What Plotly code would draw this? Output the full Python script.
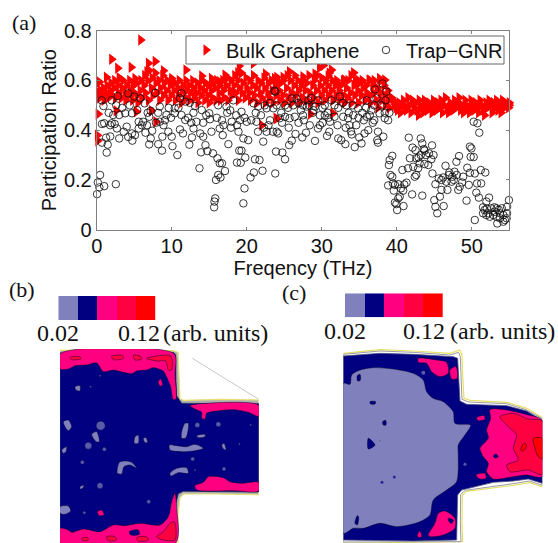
import plotly.graph_objects as go

W, H = 558, 543

# ---------- panel (a) data ----------
trap_points = [
(0.05,.143),(0.15,.19),(0.45,.22),(0.35,.17),(1.0,.175),(2.55,.183),(1.33,.31),(1.47,.342),(.7,.35),(1.25,.37),(1.8,.375),(3.0,.367),
(4.2,.373),(4.75,.358),(5.1,.38),(5.6,.407),(6.7,.42),(.67,.52),(.9,.497),(2,.52),(2.8,.537),(4.2,.548),(5,.535),(5.8,.528),(6.4,.508),
(7.8,.55),(8.4,.495),(7.2,.478),(3,.461),(2.2,.461),(3.8,.468),(4.7,.468),(5.4,.481),(2.4,.425),(1.8,.42),(.7,.425),(1,.428),(2,.428),
(2.7,.407),(3.6,.394),(4,.414),(4.7,.387),(5.6,.434),(6,.42),(6.2,.434),(7,.454),(7,.343),(7.2,.367),(7.4,.398),(8.2,.344),(8.7,.318),
(8.75,.374),(7.9,.43),(8.4,.434),(9.1,.44),(9.55,.394),(10,.374),(10.1,.336),(10.75,.3),(9.3,.461),(10.4,.468),(11.3,.461),(11.1,.403),
(11.5,.387),(11.8,.441),(12.35,.342),(12.7,.371),(12.9,.407),(13.3,.434),(13.8,.387),(14.2,.374),(13.7,.247),(13.9,.311),(14.5,.34),
(14.75,.316),(15.5,.307),(15,.468),(15.1,.444),(15.3,.394),(16.1,.287),(16.4,.267),(16.7,.267),(17.1,.236),(15.9,.2),(16.2,.22),(16.5,.21),
(15.8,.126),(15.7,.113),(15.65,.09),(16.4,.407),(16.8,.38),(17.55,.344),(18,.434),(18.7,.42),(18.9,.394),(18.7,.27),(19.2,.269),(19,.318),
(19.3,.318),(19.3,.474),(19.55,.367),(19.8,.29),(19.7,.166),(19.55,.106),(20.5,.21),(20.95,.23),(21.1,.283),(21.7,.28),(22.1,.237),(20.2,.36),
(20,.434),(21.3,.434),(21.5,.394),(22.2,.354),(22.65,.394),(23.1,.44),(23.9,.314),(23.8,.226),(24,.394),
(24.75,.31),(25.1,.283),(25.65,.34),(26,.358),(26.5,.385),(27.4,.371),(27.9,.39),(28.4,.42),(29.1,.357),(29.5,.407),(29.75,.42),(30.7,.377),
(31,.394),(31.1,.434),(32.2,.367),(32.6,.36),(33.15,.344),(33.7,.42),(34,.383),(34.4,.332),(35.3,.347),(35,.371),(35.7,.387),(36.2,.4),(37.4,.36),
(37.5,.35),(37.5,.394),(38.2,.374),(38.4,.448),(38.85,.44),(37.7,.468),(36,.454),(36.4,.46),(34.2,.46),(33.5,.448),(32.85,.454),(31.7,.454),
(30.4,.46),(29.75,.46),(27.5,.46),(26.4,.454),(25.7,.448),(25.1,.454),(24.4,.448),(24.2,.387),(23.5,.394),(38.1,.588),(38.6,.555),(37.1,.564),
(37.3,.528),(36,.52),(34.85,.488),(33.3,.5),(32.4,.535),(31.3,.52),(31.7,.5),(30.4,.5),(29.1,.495),(28.2,.52),(28,.495),(26.6,.528),(26,.528),
(25.1,.5),(23.7,.559),(23.8,.555),(23.55,.488),(22.65,.488),(21.5,.495),(20.9,.508),(18.2,.52),(16.2,.5),(17.3,.495),(17.8,.48),(13.1,.497),
(11.8,.515),(11.3,.548),(11.1,.528),(10.4,.488),(14,.481),(12.2,.45),(14.2,.43),(16.9,.42),(17.9,.41),(19.1,.44),(22.3,.41),(22.9,.42),(24.7,.43),
(25.6,.41),(26.9,.43),(27.6,.44),(28.8,.47),(30.1,.43),(30.9,.45),(32.1,.42),(33.2,.41),(33.9,.395),(35.6,.44),(36.8,.43),(38.4,.47),
(28.3,.5),(28.9,.48),(27.2,.48),(26.2,.5),(34.6,.42),(37,.44),(9.9,.45),(6.5,.39),(8.9,.42),(12.6,.43),
(1.6,.47),(2.6,.5),(3.4,.49),(4.4,.5),(6.8,.47),(8.2,.47),(9.6,.49),(10.9,.49),(12.4,.51),(12.9,.47),(14.6,.46),(16,.45),(16.7,.44),(17.4,.47),
(18.6,.46),(19.7,.45),(20.6,.44),(21.2,.47),(21.9,.46),(22.4,.5),(23.1,.51),(24,.5),(24.6,.47),(25.5,.49),(26.9,.51),(27.5,.5),(28.6,.53),(29.5,.52),
(30.1,.49),(30.8,.47),(32.2,.49),(32.8,.51),(33.6,.47),(34.1,.5),(34.9,.45),(35.4,.47),(35.9,.49),(36.6,.48),(37,.5),(38,.5),(38.5,.52),(39,.47),
(38.85,.178),(39.05,.28),(39.4,.297),(38.95,.26),(39.15,.22),(39.4,.213),(39.5,.186),(39.75,.18),(39.6,.157),(40.2,.183),(40.55,.166),(40.85,.157),
(40.4,.133),(40.2,.126),(39.75,.109),(39.95,.103),(40.05,.079),(40.9,.095),(40.75,.24),(41.5,.247),(41.6,.37),(42.1,.33),(42.5,.32),(41.75,.287),
(42.6,.287),(42.2,.253),(42.4,.213),(42.85,.247),(43.2,.367),(43.4,.347),(43.6,.324),(43.7,.318),(44.7,.339),(43.9,.3),(44.3,.307),(44.6,.283),
(44.2,.26),(44.75,.226),(43.4,.137),(42.05,.142),(41,.182),(41.3,.189),(42.6,.22),(43.05,.267),(43.7,.264),(45.15,.183),(45.6,.206),(45.95,.2),
(46.6,.193),(45,.119),(45.15,.092),(45.4,.066),(45.75,.133),(45.95,.16),(46.25,.095),(46.5,.257),(46.75,.16),(46.95,.22),(47.4,.213),(47.7,.233),
(47.95,.273),(48.3,.296),(47.3,.193),(48.2,.16),(48.4,.173),(48.85,.213),(49.4,.249),(49.3,.117),(49.6,.18),(49.75,.229),(49.85,.293),(49.75,.334),
(49.95,.327),(50.25,.434),(50.75,.428),(51,.39),(50.25,.292),(50.4,.226),(51.2,.24),(51.8,.23),(50.7,.186),(51.25,.186),(50.6,.149),(50.95,.129),
(52.3,.129),(51.95,.113),(50.4,.039),(51.5,.09),(51.7,.079),(51.5,.066),(52.2,.066),(52.6,.086),(53.05,.072),(53.3,.052),(53.4,.025),(53.75,.066),
(54,.086),(54.2,.059),(54.4,.039),(54.7,.066),(54.95,.119),(54.7,.092),(53.3,.086),(52.4,.052),(53.75,.046),(54.2,.032),(54.65,.046),(52.85,.059),
(51.95,.059),(47,.23),(47.6,.2),(48,.22),(46.2,.21),(44.9,.3),(43.2,.3),(42.9,.29),(48.7,.19),(53,.09),(53.6,.08),(52,.085),
]
bulk_points = [
(.36,.594),(.2,.465),(.1,.38),(.15,.358),(5.87,.763),(2,.685),(2.8,.649),(4.6,.653),(7.8,.676),(6.9,.669),(6.7,.635),(8.9,.639),(11.9,.642),(1.3,.613),
(3.1,.608),(5.1,.608),(10,.608),(14,.618),(15.3,.608),(16.4,.595),(17.1,.622),(19,.658),(18.8,.631),(20.9,.669),(22.5,.626),(24,.613),(2.6,.478),
(5.3,.474),(7.3,.478),(7.9,.434),(22,.42),(24,.447),(29.7,.651),(30.2,.66),(31.3,.642),(29.1,.626),(25.7,.635),(24.85,.613),(23.7,.608),(27.5,.615),
(30.85,.618),(34.25,.631),(33.05,.602),(34.8,.602),(36.4,.602),(37.7,.608),(38.4,.602),(23.9,.447),(28.5,.465),(31.5,.468),
(.3,.55),(.4,.53),(.5,.56),(.8,.54),(.9,.57),(1,.52),(1.3,.55),(1.4,.58),(1.5,.53),(1.8,.56),(1.9,.59),(2,.54),(2.3,.57),(2.4,.6),(2.5,.53),
(2.8,.58),(2.9,.55),(3,.61),(3.3,.53),(3.4,.57),(3.5,.6),(3.8,.55),(3.9,.52),(4,.58),(4.3,.54),(4.4,.6),(4.5,.56),(4.8,.52),(4.9,.58),(5,.55),
(5.3,.59),(5.4,.54),(5.5,.51),(5.8,.56),(5.9,.6),(6,.53),(6.3,.58),(6.4,.62),(6.5,.55),(6.8,.6),(6.9,.52),(7,.64),(7.3,.57),(7.4,.61),(7.5,.54),
(7.8,.63),(7.9,.59),(8,.55),(8.3,.6),(8.4,.52),(8.5,.57),(8.8,.62),(8.9,.54),(9,.59),(9.3,.56),(9.4,.6),(9.5,.52),(9.8,.58),(9.9,.54),(10,.6),
(10.3,.56),(10.4,.59),(10.5,.52),(10.8,.57),(10.9,.54),(11,.6),(11.3,.51),(11.4,.56),(11.5,.58),(11.8,.53),(11.9,.6),(12,.56),(12.3,.58),(12.4,.52),
(12.5,.55),(12.8,.6),(12.9,.57),(13,.53),(13.3,.55),(13.4,.59),(13.5,.51),(13.8,.57),(13.9,.54),(14,.6),(14.3,.56),(14.4,.52),(14.5,.59),(14.8,.54),
(14.9,.58),(15,.51),(15.3,.56),(15.4,.53),(15.5,.59),(15.8,.57),(15.9,.52),(16,.6),(16.3,.55),(16.4,.58),(16.5,.52),(16.8,.6),(16.9,.56),(17,.53),
(17.3,.58),(17.4,.61),(17.5,.52),(17.8,.56),(17.9,.6),(18,.54),(18.3,.58),(18.4,.62),(18.5,.55),(18.8,.6),(18.9,.52),(19,.57),(19.3,.63),(19.4,.55),
(19.5,.59),(19.8,.53),(19.9,.61),(20,.57),(20.3,.55),(20.4,.6),(20.5,.52),(20.8,.58),(20.9,.62),(21,.54),(21.3,.57),(21.4,.51),(21.5,.6),(21.8,.55),
(21.9,.59),(22,.53),(22.3,.61),(22.4,.57),(22.5,.51),(22.8,.55),(22.9,.59),(23,.53),(23.3,.6),(23.4,.56),(23.5,.51),(23.8,.58),(23.9,.54),(24,.6),
(24.3,.56),(24.4,.52),(24.5,.59),(24.8,.54),(24.9,.6),(25,.51),(25.3,.57),(25.4,.62),(25.5,.53),(25.8,.6),(25.9,.55),(26,.51),(26.3,.58),(26.4,.62),
(26.5,.54),(26.8,.6),(26.9,.56),(27,.51),(27.3,.58),(27.4,.53),(27.5,.6),(27.8,.56),(27.9,.52),(28,.59),(28.3,.62),(28.4,.55),(28.5,.51),(28.8,.58),
(28.9,.53),(29,.6),(29.3,.56),(29.4,.62),(29.5,.51),(29.8,.58),(29.9,.54),(30,.61),(30.3,.56),(30.4,.52),(30.5,.6),(30.8,.58),(30.9,.54),(31,.63),
(31.3,.56),(31.4,.6),(31.5,.52),(31.8,.58),(31.9,.54),(32,.6),(32.3,.56),(32.4,.52),(32.5,.58),(32.8,.54),(32.9,.6),(33,.51),(33.3,.57),(33.4,.53),
(33.5,.6),(33.8,.55),(33.9,.62),(34,.51),(34.3,.58),(34.4,.54),(34.5,.6),(34.8,.56),(34.9,.51),(35,.59),(35.3,.54),(35.4,.6),(35.5,.57),(35.8,.52),
(35.9,.58),(36,.55),(36.3,.6),(36.4,.54),(36.5,.51),(36.8,.58),(36.9,.55),(37,.6),(37.3,.52),(37.4,.57),(37.5,.49),(37.8,.55),(37.9,.6),(38,.52),
(38.3,.58),(38.4,.54),(38.5,.5),(38.8,.56),(38.9,.52),(39,.49),
(39.3,.53),(39.5,.52),(39.7,.5),(39.9,.49),(40.1,.48),(40.3,.51),(40.5,.47),(40.7,.5),(40.9,.52),(41.1,.49),(41.3,.48),(41.5,.53),(41.7,.5),(41.9,.47),
(42.1,.52),(42.3,.49),(42.5,.51),(42.7,.48),(42.9,.46),(43.1,.5),(43.3,.49),(43.5,.47),(43.7,.52),(43.9,.5),(44.1,.48),(44.3,.51),(44.5,.49),(44.7,.47),
(44.9,.52),(45.1,.5),(45.3,.48),(45.5,.51),(45.7,.49),(45.9,.52),(46.1,.47),(46.3,.5),(46.5,.53),(46.7,.49),(46.9,.47),(47.1,.51),(47.3,.5),(47.5,.48),
(47.7,.52),(47.9,.49),(48.1,.51),(48.3,.53),(48.5,.48),(48.7,.5),(48.9,.47),(49.1,.52),(49.3,.5),(49.5,.49),(49.7,.47),(49.9,.52),(50.1,.5),(50.3,.48),
(50.5,.51),(50.7,.49),(50.9,.47),(51.1,.52),(51.3,.5),(51.5,.48),(51.7,.46),(51.9,.51),(52.1,.49),(52.3,.52),(52.5,.5),(52.7,.47),(52.9,.51),(53.1,.49),
(53.3,.52),(53.5,.48),(53.7,.5),(53.9,.47),(54.1,.52),(54.3,.49),(54.5,.51),(54.7,.5),(54.9,.49),(55,.51),(55,.5),(40,.5),(41,.5),(43,.52),(44,.49),(46,.5),
(48,.5),(50,.49),(52,.5),(54,.5),(45,.49),(47,.49),(49,.49),(51,.5),(53,.5),
]
bulk_x = [p[0] for p in bulk_points]
bulk_y = [p[1] for p in bulk_points]
trap_x = [p[0] for p in trap_points]
trap_y = [p[1] for p in trap_points]

x_ticks = [0, 10, 20, 30, 40, 50]
y_ticks = [0, .2, .4, .6, .8]
y_labels = ["0", "0.2", "0.4", "0.6", "0.8"]

LIGHT, NAVY, PINK, ROSE, RED = "#8080bd", "#000080", "#ff0080", "#ff0040", "#ff0000"
bar_levels = [[0.02, 0.045, 0.07, 0.095, 0.12]]
bar_colors = [LIGHT, NAVY, PINK, ROSE, RED]

# ---------- panel (b) regions (image-like coordinates) ----------
b_outline = [(180,226),(300,224),(400,226),(520,227),(534,232),(536,300),(540,372),(552,376),(660,373),(776,375),(776,659),(650,657),(550,657),(540,668),(534,720),(534,804),(180,804)]
b_body = [(180,234),(400,235),(522,233),(527,240),(528,320),(530,362),(545,385),(776,386),(776,651),(550,649),(535,656),(524,700),(524,804),(180,804)]
b_pink = [
 [(180,236),(522,236),(525,300),(528,372),(520,374),(512,335),(497,300),(490,288),(460,278),(440,285),(410,288),(395,296),(370,292),(340,285),(310,290),(290,264),(260,270),(225,272),(205,282),(180,282)],
 [(570,392),(776,390),(776,424),(745,412),(700,404),(650,408),(620,415),(615,432),(605,430),(605,412),(585,402)],
 [(585,632),(610,622),(625,605),(670,608),(690,620),(725,625),(776,622),(776,648),(700,647),(620,648),(590,645)],
 [(180,760),(205,765),(215,772),(250,762),(300,770),(340,750),(375,752),(420,745),(480,750),(505,725),(515,680),(525,655),(530,700),(526,804),(180,804)],
 [(475,320),(482,312),(488,330),(480,333)],
 [(292,710),(305,705),(312,720),(298,722)],
]
b_rose = [
 [(210,247),(240,245),(243,251),(215,254)],[(335,243),(368,242),(370,250),(340,254)],[(400,241),(420,243),(425,252),(405,255)],
 [(440,250),(480,242),(512,242),(515,285),(505,285),(497,258),(470,258)],[(490,770),(510,745),(523,740),(525,795),(490,795),(470,785)],
 [(245,790),(262,787),(265,795),(248,797)],[(320,785),(345,785),(350,795),(325,797)],[(410,788),(440,785),(445,795),(415,798)],
]
b_navy = [[(388,770),(415,765),(418,778),(392,780)]]
b_light = [
 [(190,440),(205,435),(215,455),(205,467),(195,455)],[(275,478),(290,470),(298,500),(288,500)],[(405,485),(415,480),(415,505),(403,505)],
 [(430,490),(438,488),(443,502),(435,503)],[(185,525),(200,515),(198,530),(190,535)],[(352,595),(358,562),(375,558),(395,562),(410,580),(390,570),(372,575),(365,597)],
 [(508,510),(530,512),(560,515),(585,508),(610,520),(580,528),(545,530),(510,525)],[(545,470),(555,445),(565,445),(558,488),(545,490)],
 [(590,482),(615,478),(615,485),(595,488)],[(665,510),(672,505),(678,525),(670,522)],[(510,595),(530,580),(560,578),(565,595),(535,593),(512,603)],
 [(240,635),(252,630),(248,640),(240,642)],[(180,695),(205,693),(212,708),(195,718),(180,715)],[(225,335),(240,332),(240,348),(228,345)],
]
b_dot_x = [302,265,313,247,592,655,578,672,300,446,253,272,300,752,718,585]
b_dot_y = [452,512,523,562,450,448,552,582,632,680,713,335,302,450,507,585]
b_dot_s = [9,7,4,4,5,5,4,4,6,4,3,2,2,2,2,2]
b_rule_x = [577,775]
b_rule_y = [250,372]

# ---------- panel (c) regions ----------
c_outline = [(190,235),(300,224),(400,228),(510,235),(540,225),(546,240),(548,300),(552,370),(570,376),(680,382),(740,400),(787,428),(787,636),(750,623),(700,631),(640,639),(560,649),(547,660),(546,740),(548,800),(190,804)]
c_grey = [(190,238),(300,228),(400,232),(510,240),(536,232),(541,245),(543,300),(546,373),(566,381),(680,386),(738,404),(787,431),(787,631),(748,618),(700,626),(640,634),(556,646),(542,658),(541,740),(543,800),(190,801)]
c_body = [(190,243),(300,235),(400,238),(520,245),(533,250),(536,330),(540,378),(560,388),(680,392),(740,408),(787,436),(787,625),(745,612),(700,618),(640,622),(545,645),(533,660),(530,795),(400,798),(190,795)]
c_light = [(190,325),(210,328),(215,300),(240,285),(280,278),(340,282),(400,295),(430,315),(440,350),(460,370),(490,380),(520,410),(525,445),(572,450),(555,480),(535,510),(535,540),(530,620),(500,645),(460,675),(450,720),(420,740),(350,755),(300,745),(250,760),(220,760),(190,775)]
c_pink = [
 [(415,250),(470,255),(500,262),(505,295),(480,305),(455,290),(440,265),(415,262)],[(510,285),(528,275),(532,310),(515,312)],
 [(630,404),(680,405),(745,420),(787,436),(787,605),(740,600),(700,605),(660,612),(640,612),(620,590),(625,565),(610,545),(600,520),(625,490),(620,465),(632,430)],
 [(445,780),(465,745),(475,715),(495,708),(525,730),(525,760),(490,780),(450,785)],[(588,600),(615,595),(618,610),(600,612)],
 [(590,428),(612,422),(615,433),(595,437)],[(412,780),(420,768),(425,785),(415,787)],
]
c_rose = [[(660,425),(700,415),(745,432),(787,438),(787,598),(745,585),(690,590),(680,570),(715,555),(700,520),(710,480),(690,460),(675,445)]]
c_red = [[(760,490),(787,490),(787,552),(775,545),(765,520)],[(722,525),(732,505),(740,510),(730,528)]]
c_navy = [
 [(265,490),(285,510),(265,522)],[(232,302),(240,298),(241,316),(233,318)],[(270,380),(287,380),(285,387),(272,387)],[(308,440),(317,436),(318,450),(310,450)],
 [(225,745),(232,722),(236,725),(232,750)],[(640,543),(648,537),(655,545),(645,549)],[(505,730),(520,735),(515,745),(507,740)],
]
c_dot_x = [343,306,555,430,300]
c_dot_y = [606,622,568,293,497]
c_dot_s = [3,3,3,4,1]
c_dot_c = [NAVY, NAVY, LIGHT, LIGHT, NAVY]

fig = go.Figure()

# panel a
fig.add_trace(go.Scatter(x=bulk_x, y=bulk_y, mode="markers", name="Bulk Graphene",
    marker=dict(symbol="triangle-right", size=10, color="#ff0000", line=dict(width=0)), cliponaxis=False))
fig.add_trace(go.Scatter(x=trap_x, y=trap_y, mode="markers", name="Trap\u2212GNR",
    marker=dict(symbol="circle-open", size=7.5, color="rgba(10,10,10,0.9)", line=dict(width=0.9)), cliponaxis=False))


def poly(points, color, xa, ya, line="rgba(0,0,40,0.8)", lw=0.6, smooth=True):
    fig.add_trace(go.Scatter(x=[p[0] for p in points] + [points[0][0]], y=[p[1] for p in points] + [points[0][1]],
        mode="lines", fill="toself", fillcolor=color,
        line=dict(color=line, width=lw, shape="spline" if smooth else "linear", smoothing=0.8),
        xaxis=xa, yaxis=ya, showlegend=False, hoverinfo="skip"))


# panel b
poly(b_outline, "#aeb0b4", "x2", "y2", line="#e8e070", lw=1.2, smooth=False)
poly(b_body, NAVY, "x2", "y2", lw=0.8, line="#303060", smooth=False)
for p in b_pink:
    poly(p, PINK, "x2", "y2")
for p in b_rose:
    poly(p, ROSE, "x2", "y2")
for p in b_navy:
    poly(p, NAVY, "x2", "y2")
for p in b_light:
    poly(p, LIGHT, "x2", "y2")
fig.add_trace(go.Scatter(x=b_dot_x, y=b_dot_y, mode="markers", xaxis="x2", yaxis="y2", showlegend=False,
    marker=dict(color=LIGHT, size=b_dot_s, line=dict(color="#000040", width=0.4))))
fig.add_trace(go.Scatter(x=b_rule_x, y=b_rule_y, mode="lines", xaxis="x2", yaxis="y2", showlegend=False,
    line=dict(color="#c8c8c8", width=1)))

# panel c
poly(c_outline, "#ffffff", "x3", "y3", line="#e8e060", lw=1.2, smooth=False)
poly(c_grey, "#ffffff", "x3", "y3", line="#9a9aa8", lw=1, smooth=False)
poly(c_body, NAVY, "x3", "y3", lw=0.8, line="#505080", smooth=False)
poly(c_light, LIGHT, "x3", "y3")
for p in c_pink:
    poly(p, PINK, "x3", "y3")
for p in c_rose:
    poly(p, ROSE, "x3", "y3")
for p in c_red:
    poly(p, RED, "x3", "y3")
for p in c_navy:
    poly(p, NAVY, "x3", "y3")
fig.add_trace(go.Scatter(x=c_dot_x, y=c_dot_y, mode="markers", xaxis="x3", yaxis="y3", showlegend=False,
    marker=dict(color=c_dot_c, size=c_dot_s, line=dict(width=0))))

# colour keys
step = []
for i, c in enumerate(bar_colors):
    step += [[i / 5, c], [(i + 1) / 5, c]]
for xa, ya in (("x4", "y4"), ("x5", "y5")):
    fig.add_trace(go.Heatmap(z=bar_levels, colorscale=step, zmin=0.0075, zmax=0.1325, showscale=False,
        xaxis=xa, yaxis=ya, hoverinfo="skip", xgap=0, ygap=0))


def dom_x(a, b):
    return [a / W, b / W]


def dom_y(top, bottom):
    return [1 - bottom / H, 1 - top / H]


hidden = dict(visible=False, showgrid=False, zeroline=False, fixedrange=True)
AX = "#808080"
FONT = "Liberation Sans"
SERIF = "Liberation Serif"
tickfont = dict(family=FONT, size=20, color="#111")

layout = dict(
    width=W, height=H, margin=dict(l=0, r=0, t=0, b=0), paper_bgcolor="white", plot_bgcolor="rgba(0,0,0,0)",
    font=dict(family=FONT, color="#111"),
    showlegend=True,
    legend=dict(orientation="h", x=186 / W, y=1 - 50 / H, xanchor="left", yanchor="middle", bgcolor="rgba(0,0,0,0)",
                borderwidth=0, font=dict(family=FONT, size=20, color="#111"),
                entrywidth=135, entrywidthmode="pixels", itemclick=False, itemdoubleclick=False, tracegroupgap=0),
    xaxis=dict(domain=dom_x(96.7, 509.3), range=[0, 55], tickvals=x_ticks, ticks="inside", ticklen=3, tickcolor=AX,
               linecolor=AX, linewidth=1, mirror="ticks", showgrid=False, zeroline=False, tickfont=tickfont, anchor="y",
               automargin=False, ticklabelstandoff=-2,
               title=dict(text="Freqency (THz)", font=dict(family=FONT, size=20, color="#111"), standoff=0)),
    yaxis=dict(domain=dom_y(30.7, 229.7), range=[0, 0.8], tickvals=y_ticks, ticktext=y_labels, ticks="inside", ticklen=3,
               tickcolor=AX, linecolor=AX, linewidth=1, mirror="ticks", showgrid=False, zeroline=False, tickfont=tickfont,
               automargin=False,
               anchor="x", title=dict(text="Participation Ratio", font=dict(family=FONT, size=20, color="#111"), standoff=1)),
    xaxis2=dict(domain=dom_x(60, 259), range=[180, 777], anchor="y2", **hidden),
    yaxis2=dict(domain=dom_y(349, 543), range=[804, 222], anchor="x2", **hidden),
    xaxis3=dict(domain=dom_x(343.3, 542.3), range=[190, 787], anchor="y3", **hidden),
    yaxis3=dict(domain=dom_y(349, 543), range=[804, 222], anchor="x3", **hidden),
    xaxis4=dict(domain=dom_x(58.3, 155.7), anchor="y4", **hidden),
    yaxis4=dict(domain=dom_y(296, 320), anchor="x4", **hidden),
    xaxis5=dict(domain=dom_x(345, 442.7), anchor="y5", **hidden),
    yaxis5=dict(domain=dom_y(293.3, 317.3), anchor="x5", **hidden),
    shapes=[dict(type="rect", xref="paper", yref="paper", x0=186 / W, x1=504 / W, y0=1 - 64 / H, y1=1 - 36 / H,
                 fillcolor="white", line=dict(color="#666", width=1), layer="above")],
)
fig.update_layout(**layout)


def note(text, x, y, size, anchor="center"):
    fig.add_annotation(text=text, xref="paper", yref="paper", x=x / W, y=1 - y / H, showarrow=False, xanchor=anchor,
                       yanchor="middle", font=dict(family=SERIF, size=size, color="#111"))


note("(a)", 24, 22, 22)
note("(b)", 22, 289, 22)
note("(c)", 294, 292, 22)
note("0.02", 58, 333, 24)
note("0.12", 139, 333, 24)
note("(arb. units)", 161, 333, 24, "left")
note("0.02", 345, 331, 24)
note("0.12", 424, 331, 24)
note("(arb. units)", 448, 331, 24, "left")

fig.write_html("out.html", config=dict(displayModeBar=False),
               post_script="document.body.style.margin='0';document.body.style.overflow='hidden';")
